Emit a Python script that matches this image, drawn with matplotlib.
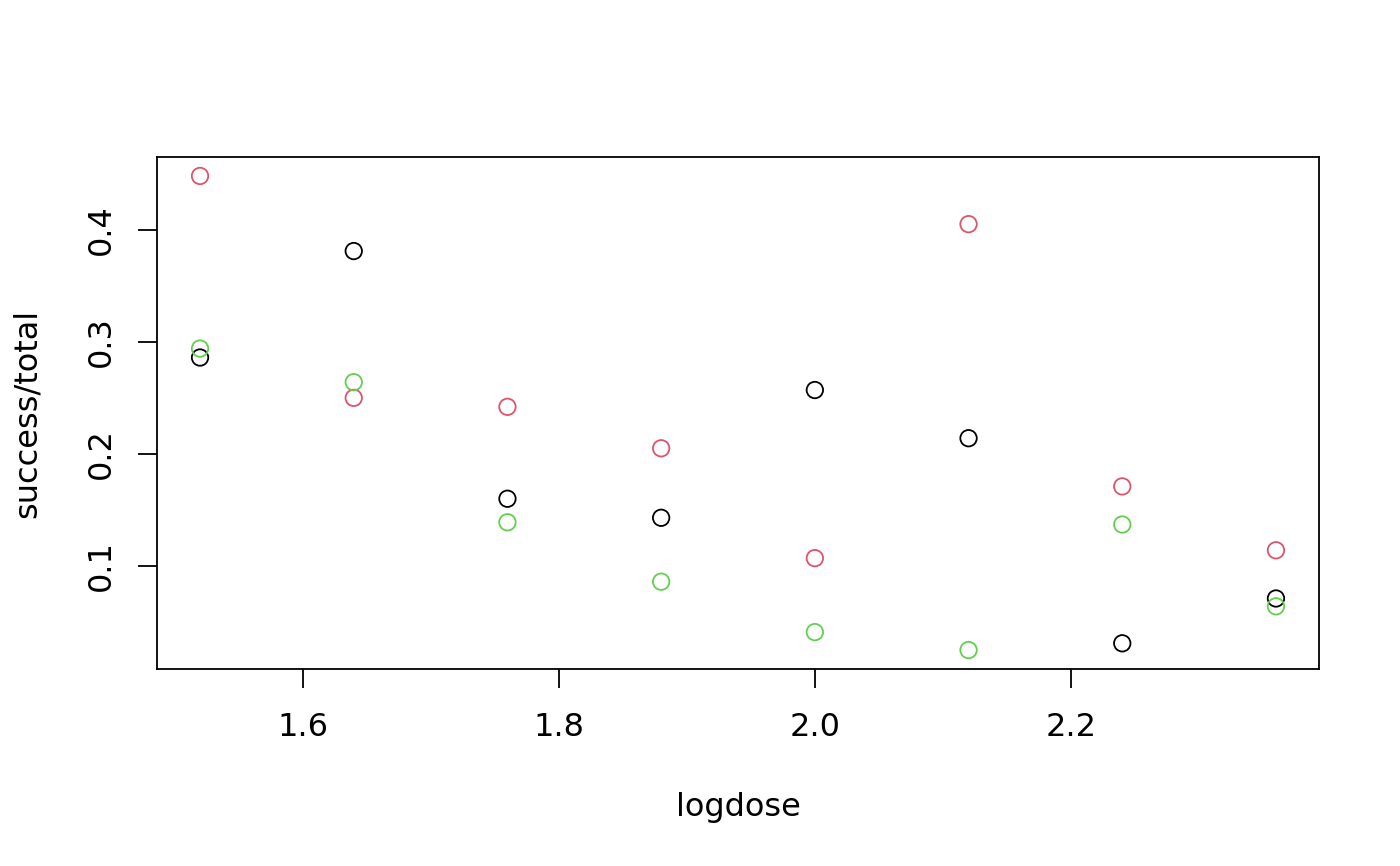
import matplotlib
matplotlib.use("Agg")
import matplotlib.pyplot as plt

plt.rcParams["font.family"] = "DejaVu Sans"

# logdose values and success/total proportions for three groups
logdose = [1.52, 1.64, 1.76, 1.88, 2.00, 2.12, 2.24, 2.36]
group1 = [0.286, 0.381, 0.160, 0.143, 0.257, 0.214, 0.031, 0.071]
group2 = [0.448, 0.250, 0.242, 0.205, 0.107, 0.405, 0.171, 0.114]
group3 = [0.294, 0.264, 0.139, 0.086, 0.041, 0.025, 0.137, 0.064]
colors = ["black", "#DF536B", "#61D04F"]

xticks = [1.6, 1.8, 2.0, 2.2]
yticks = [0.1, 0.2, 0.3, 0.4]

fig = plt.figure(figsize=(14, 8.66), dpi=100)
ax = fig.add_axes([157 / 1400, 1 - 669 / 866, (1319 - 157) / 1400, (669 - 157) / 866])

for ys, c in zip([group1, group2, group3], colors):
    ax.scatter(logdose, ys, s=140, facecolors="none", edgecolors=c, linewidths=1.3)

xr = max(logdose) - min(logdose)
ax.set_xlim(min(logdose) - 0.04 * xr, max(logdose) + 0.04 * xr)
allv = group1 + group2 + group3
yr = max(allv) - min(allv)
ax.set_ylim(min(allv) - 0.04 * yr, max(allv) + 0.04 * yr)

ax.set_xticks(xticks)
ax.set_xticklabels(["1.6", "1.8", "2.0", "2.2"])
ax.set_yticks(yticks)
ax.set_yticklabels(["0.1", "0.2", "0.3", "0.4"], rotation=90, va="center")
ax.tick_params(length=14, width=1.3, labelsize=23)
ax.tick_params(axis="x", pad=17)
ax.tick_params(axis="y", pad=15)
for sp in ax.spines.values():
    sp.set_linewidth(1.3)

ax.set_xlabel("logdose", fontsize=23, labelpad=35)
ax.set_ylabel("success/total", fontsize=23, labelpad=31)

fig.savefig("out.png", dpi=100)
